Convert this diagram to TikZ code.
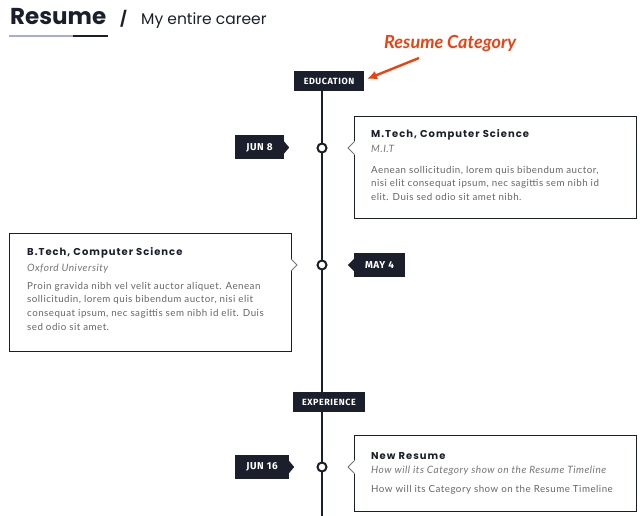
\documentclass[tikz,border=0pt]{standalone}
\usepackage{fontspec}
\setmainfont{Lato}
\newfontfamily\headfont{Poppins}
\newfontfamily\titlefont[LetterSpace=10]{Poppins}
\newfontfamily\tagfont[LetterSpace=6]{Fira Sans}
\newfontfamily\bodyfont[LetterSpace=5]{Lato}
\usetikzlibrary{positioning,calc,arrows.meta}
\definecolor{navy}{HTML}{1A1F2B}
\definecolor{lavender}{HTML}{A9ADD6}
\definecolor{subgray}{HTML}{757575}
\definecolor{bodygray}{HTML}{666666}
\definecolor{catred}{HTML}{F0400F}
\tikzset{
	cattag/.style   = {fill=navy, text=white, inner sep=0pt, minimum height=20pt,
		font=\tagfont\bfseries\fontsize{9}{10}\selectfont},
	datetag/.style  = {fill=navy, text=white, inner sep=0pt, minimum height=24pt,
		font=\tagfont\bfseries\fontsize{10}{11}\selectfont},
	dot/.style      = {circle, draw=navy, line width=2pt, fill=white,
		minimum size=9pt, inner sep=0pt},
	card/.style     = {draw=navy, line width=1.2pt, fill=white, inner sep=0pt,
		minimum width=282pt, anchor=north west},
	cardtitle/.style = {anchor=base west, inner sep=0pt, text=navy,
		font=\titlefont\bfseries\fontsize{10}{11}\selectfont},
	cardsub/.style  = {anchor=base west, inner sep=0pt, text=subgray,
		font=\bodyfont\itshape\fontsize{10.1}{11}\selectfont},
	cardbody/.style = {anchor=north west, inner sep=0pt, text=bodygray, align=left,
		font=\bodyfont\fontsize{9.75}{13.6}\selectfont},
	notch/.style    = {draw=subgray, line width=0.8pt},
	timeline/.style = {draw=navy, line width=1.4pt}
}

\begin{document}
\begin{tikzpicture}[x=1pt, y=-1pt, >=latex]
	\useasboundingbox (0,0) rectangle (643,516);

	% heading
	\node at (10,25) [anchor=base west, inner sep=0pt, text=navy,
		font=\headfont\bfseries\fontsize{23}{26}\selectfont] (head) {Resume};
	\node at (120,25) [anchor=base west, inner sep=0pt, text=navy,
		font=\headfont\bfseries\fontsize{15}{18}\selectfont] (slash) {/};
	\node at (141,25) [anchor=base west, inner sep=0pt, text=navy,
		font=\headfont\fontsize{15.5}{18}\selectfont] (sub) {My entire career};
	\draw[lavender, line width=1.5pt] (9,36) -- (73,36);
	\draw[navy, line width=1.5pt] (73,36) -- (108,36);

	% category hint
	\node at (384,49) [anchor=base west, inner sep=0pt, text=catred,
		font=\bfseries\itshape\fontsize{18}{20}\selectfont] (cat) {Resume Category};
	\coordinate (cattail) at (419,58);
	\coordinate (cattip) at (367,79);
	\draw[catred, line width=2.4pt, -{Latex[length=10pt,width=9pt]}] (cattail) -- (cattip);

	% categories
	\node at (329,81) [cattag, minimum width=70pt] (edu) {EDUCATION};
	\node at (329,402) [cattag, minimum width=72pt] (exp) {EXPERIENCE};

	% timeline
	\coordinate (axis) at (322,0);
	\coordinate (tend) at (322,516);
	\draw[timeline] (axis |- edu.south) -- (axis |- exp.north);
	\draw[timeline] (axis |- exp.south) -- (tend);

	% cards
	\node at (354,116) [card, minimum height=102pt] (c1) {};
	\node at (9,233) [card, minimum height=118pt] (c2) {};
	\node at (354,435) [card, minimum height=76pt] (c3) {};

	% events
	\node at (322,148) [dot] (dot1) {};
	\node at (322,265) [dot] (dot2) {};
	\node at (322,467) [dot] (dot3) {};

	% notches
	\coordinate (n1) at (348,148);
	\coordinate (n2) at (297,265);
	\coordinate (n3) at (348,467);
	\fill[white] (n1) -- ++(7,-7) -- ++(0,14) -- cycle;
	\draw[notch] ($(n1)+(6,-6)$) -- (n1) -- ($(n1)+(6,6)$);
	\fill[white] (n2) -- ++(-7,-7) -- ++(0,14) -- cycle;
	\draw[notch] ($(n2)+(-6,-6)$) -- (n2) -- ($(n2)+(-6,6)$);
	\fill[white] (n3) -- ++(7,-7) -- ++(0,14) -- cycle;
	\draw[notch] ($(n3)+(6,-6)$) -- (n3) -- ($(n3)+(6,6)$);

	% dates
	\node at (259.5,147.5) [datetag, minimum width=49pt] (d1) {JUN 8};
	\node at (379.5,265) [datetag, minimum width=51pt] (d2) {MAY 4};
	\node at (262,467) [datetag, minimum width=54pt] (d3) {JUN 16};
	\fill[navy] ([yshift=6pt]d1.east) -- ([xshift=5pt]d1.east) -- ([yshift=-6pt]d1.east) -- cycle;
	\fill[navy] ([yshift=6pt]d2.west) -- ([xshift=-6pt]d2.west) -- ([yshift=-6pt]d2.west) -- cycle;
	\fill[navy] ([yshift=6pt]d3.east) -- ([xshift=5pt]d3.east) -- ([yshift=-6pt]d3.east) -- cycle;

	% card texts
	\node at (371,138) [cardtitle] (t1) {M.Tech, Computer Science};
	\node at (371,153) [cardsub] (s1) {M.I.T};
	\node at (371,166) [cardbody] (b1) {Aenean sollicitudin, lorem quis bibendum auctor,\\
		nisi elit consequat ipsum, nec sagittis sem nibh id\\elit. Duis sed odio sit amet nibh.};

	\node at (27,255) [cardtitle] (t2) {B.Tech, Computer Science};
	\node at (27,271) [cardsub] (s2) {Oxford University};
	\node at (27,282) [cardbody] (b2) {Proin gravida nibh vel velit auctor aliquet. Aenean\\
		sollicitudin, lorem quis bibendum auctor, nisi elit\\
		consequat ipsum, nec sagittis sem nibh id elit. Duis\\sed odio sit amet.};

	\node at (371,459) [cardtitle] (t3) {New Resume};
	\node at (371,473) [cardsub] (s3) {How will its Category show on the Resume Timeline};
	\node at (371,485) [cardbody] (b3) {How will its Category show on the Resume Timeline};
\end{tikzpicture}
\end{document}
